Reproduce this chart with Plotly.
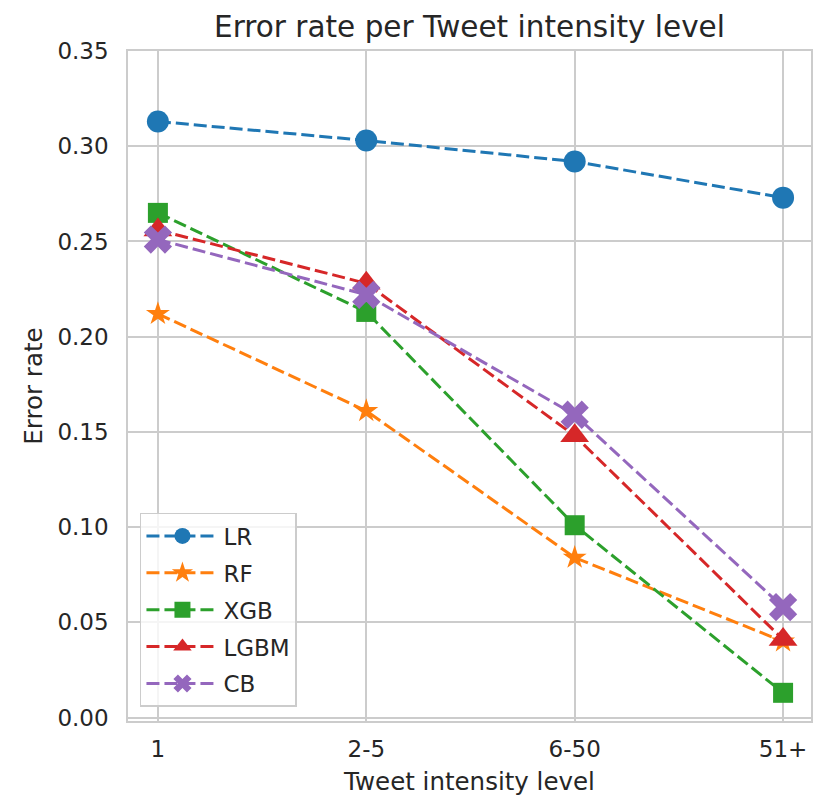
import plotly.graph_objects as go

categories = ["1", "2-5", "6-50", "51+"]
lr = [0.313, 0.303, 0.292, 0.273]
rf = [0.212, 0.161, 0.084, 0.040]
xgb = [0.265, 0.213, 0.101, 0.013]
lgbm = [0.256, 0.228, 0.148, 0.041]
cb = [0.251, 0.222, 0.159, 0.058]
y_ticks = [0.00, 0.05, 0.10, 0.15, 0.20, 0.25, 0.30, 0.35]

series = [
    ("LR", lr, "#1f77b4", "circle", 22),
    ("RF", rf, "#ff7f0e", "star", 18),
    ("XGB", xgb, "#2ca02c", "square", 20),
    ("LGBM", lgbm, "#d62728", "triangle-up", 25),
    ("CB", cb, "#9467bd", "x", 25),
]

fig = go.Figure()
for name, vals, color, sym, size in series:
    fig.add_trace(go.Scatter(
        x=list(range(len(categories))), y=vals, name=name, legendgroup=name,
        mode="lines+markers",
        line=dict(color=color, width=3, dash="13px,5px"),
        marker=dict(symbol=sym, size=size, color=color, line=dict(width=0)),
    ))

grid = "#cccccc"
txt = "#262626"
fig.update_layout(
    width=813, height=797,
    margin=dict(l=128, r=0, t=51, b=76),
    paper_bgcolor="white", plot_bgcolor="white",
    font=dict(family="DejaVu Sans", size=23, color=txt),
    title=dict(text="Error rate per Tweet intensity level", x=0.5, xref="paper",
               y=1 - 27 / 797, yanchor="middle", font=dict(size=29.5, color=txt)),
    showlegend=True,
    legend=dict(x=0.0175, y=0.021, xanchor="left", yanchor="bottom",
                bgcolor="rgba(255,255,255,0.8)", bordercolor=grid, borderwidth=1.5,
                font=dict(size=23, color=txt), itemwidth=72, tracegroupgap=4),
)
fig.update_xaxes(
    range=[-0.1435, 3.134], tickmode="array",
    tickvals=list(range(len(categories))), ticktext=categories,
    showgrid=True, gridcolor=grid, gridwidth=1.5,
    showline=True, linecolor=grid, linewidth=1.5, mirror=True,
    zeroline=False, ticks="", ticklabelstandoff=7,
    title=dict(text="Tweet intensity level", font=dict(size=24.5, color=txt), standoff=12),
)
fig.update_yaxes(
    range=[-0.0018, 0.35], tickmode="array", tickvals=y_ticks,
    ticktext=[f"{v:.2f}" for v in y_ticks],
    showgrid=True, gridcolor=grid, gridwidth=1.5,
    showline=True, linecolor=grid, linewidth=1.5, mirror=True,
    zeroline=False, ticks="", ticklabelstandoff=13,
    title=dict(text="Error rate", font=dict(size=24.5, color=txt), standoff=8),
)

fig.write_html(
    "out.html",
    config={"displayModeBar": False},
    post_script="document.body.style.margin='0';document.body.style.overflow='hidden';",
)
